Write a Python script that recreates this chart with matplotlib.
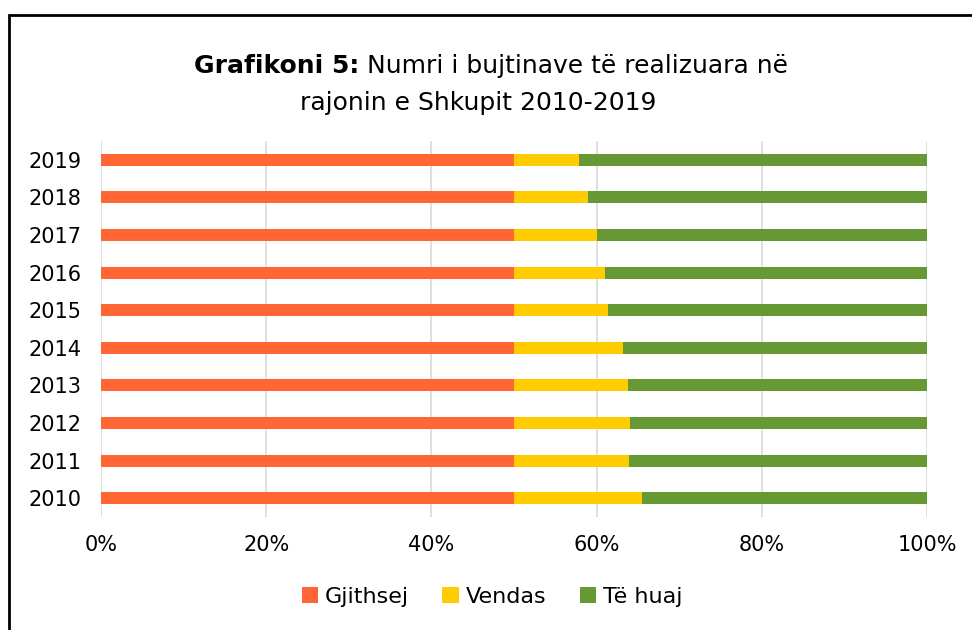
import matplotlib.pyplot as plt
import numpy as np
from matplotlib.patches import Rectangle

years = ['2010', '2011', '2012', '2013', '2014', '2015', '2016', '2017', '2018', '2019']
gjithsej = [50.0, 50.0, 50.0, 50.0, 50.0, 50.0, 50.0, 50.0, 50.0, 50.0]
vendas = [15.5, 13.95, 14.1, 13.8, 13.2, 11.4, 11.05, 10.1, 8.9, 7.85]
te_huaj = [34.5, 36.05, 35.9, 36.2, 36.8, 38.6, 38.95, 39.9, 41.1, 42.15]
series_names = ['Gjithsej', 'Vendas', 'Të huaj']
colors = ['#ff6633', '#ffcc00', '#669933']

plt.rcParams['font.family'] = ['DejaVu Sans']

fig = plt.figure(figsize=(9.72, 6.3), dpi=100)
ax = fig.add_axes([101/972, 1 - 517/630, 826/972, 376/630])

y = np.arange(len(years))
left = np.zeros(len(years))
for vals, name, c in zip([gjithsej, vendas, te_huaj], series_names, colors):
    ax.barh(y, vals, left=left, height=0.32, color=c, label=name, zorder=3)
    left += np.array(vals)

ax.set_xlim(0, 100)
ax.set_ylim(-0.5, len(years) - 0.5)
ax.set_yticks(y)
ax.set_yticklabels(years, fontsize=15)
ax.set_xticks(np.arange(0, 101, 20))
ax.set_xticklabels([f'{v}%' for v in range(0, 101, 20)], fontsize=15)
ax.tick_params(axis='y', length=0, pad=14)
ax.tick_params(axis='x', length=0, pad=13)
ax.grid(axis='x', color='#d9d9d9', linewidth=1.2, zorder=0)
for s in ax.spines.values():
    s.set_visible(False)

# title: bold lead-in + regular text
fig.text(359/972, 1 - 66/630, 'Grafikoni 5:', ha='right', va='center',
         fontsize=18, fontweight='bold')
fig.text(367/972, 1 - 66/630, 'Numri i bujtinave të realizuara në',
         ha='left', va='center', fontsize=18)
fig.text(478/972, 1 - 103/630, 'rajonin e Shkupit 2010-2019',
         ha='center', va='center', fontsize=18)

leg = fig.legend(loc='center', bbox_to_anchor=(492/972, 1 - 597/630), ncol=3,
                 frameon=False, fontsize=16, handlelength=0.75, handleheight=0.75,
                 handletextpad=0.3, columnspacing=1.5)

fig.patches.append(Rectangle((9/972, -0.1), 1.2, 1 - 15/630 + 0.1, transform=fig.transFigure,
                             fill=False, edgecolor='black', linewidth=2))

fig.savefig('out.png', dpi=100)
